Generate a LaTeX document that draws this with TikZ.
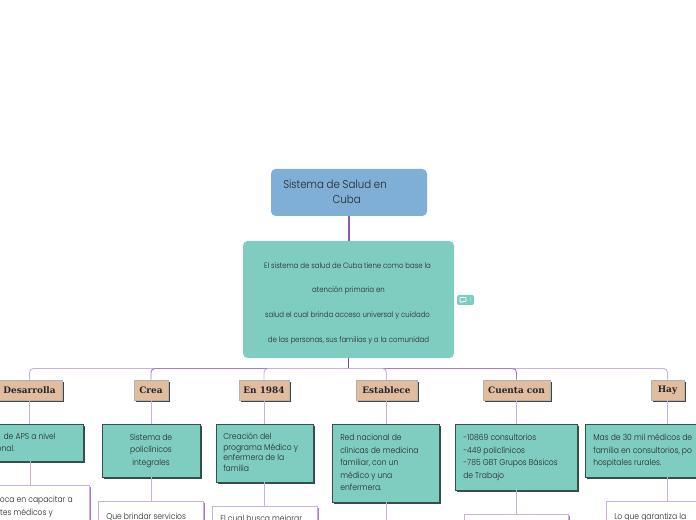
\documentclass[tikz,border=0pt]{standalone}
\usepackage{fontspec}
\usetikzlibrary{shadows}
\setmainfont{Poppins Light}[FakeStretch=0.9]
\newfontfamily\hfont{DejaVu Serif}
\definecolor{teal1}{HTML}{7ECDC0}
\definecolor{blue1}{HTML}{7FAFD6}
\definecolor{tan1}{HTML}{E0BD9F}
\definecolor{lilac}{HTML}{C9B0DF}
\definecolor{midp}{HTML}{A67CC9}
\definecolor{purp}{HTML}{7F3FA8}
\definecolor{shade}{HTML}{3A4A48}
\newcommand{\rbox}[6]{\node[#1,minimum width={(#4-(#3))*0.75pt},minimum height={(#6-(#5))*0.75pt}] (#2) at ({(#3+#4)/2},{(#5+#6)/2}) {};}
\tikzset{
 x=0.75pt,y=-0.75pt,
 solidsh/.style={drop shadow={shadow xshift=1.5pt,shadow yshift=-1.5pt,fill=#1,opacity=1}},
 rootbox/.style={fill=blue1,rounded corners=3.5pt,inner sep=0pt},
 mainbox/.style={fill=teal1,rounded corners=3.5pt,inner sep=0pt},
 tealbox/.style={fill=teal1,draw=black!60!teal1,line width=0.4pt,inner sep=0pt,solidsh=shade},
 hdrbox/.style={fill=tan1,draw=gray!60,line width=0.5pt,inner sep=0pt,solidsh=shade},
 whitebox/.style={fill=white,draw=lilac,line width=0.7pt,inner sep=0pt,solidsh=midp},
 txt/.style={font=\fontsize{6.35pt}{9.4pt}\selectfont,text=black!85,inner sep=0pt,anchor=north west,align=left},
 hdr/.style={font=\fontsize{6.7pt}{8pt}\selectfont\hfont\bfseries,text=black!85,inner sep=0pt},
 mtxt/.style={font=\fontsize{5.8pt}{7pt}\selectfont,text=black!85,inner sep=0pt},
 lk/.style={draw=lilac,line width=0.7pt},
 lkm/.style={draw=midp,line width=0.7pt},
 lkd/.style={draw=purp,line width=0.9pt},
}
\begin{document}
\begin{tikzpicture}
\useasboundingbox (0,0) rectangle (696,520);
\clip (0,0) rectangle (696,520);
\fill[white] (0,0) rectangle (696,520);
\coordinate (bus) at (348.5,368.5);
\coordinate (dnext) at (386.5,530);
\rbox{rootbox}{root}{271}{427}{169}{216}
\rbox{mainbox}{main}{243}{454}{241}{358}
\rbox{hdrbox}{ha}{-3}{62}{380}{400}
\rbox{hdrbox}{hb}{134}{168}{380}{400}
\rbox{hdrbox}{hc}{239}{289}{380}{400}
\rbox{hdrbox}{hd}{356}{417}{380}{400}
\rbox{hdrbox}{he}{483}{550}{380}{400}
\rbox{hdrbox}{hf}{651}{684}{380}{400}
\rbox{tealbox}{ta}{-23}{83}{424}{461}
\rbox{tealbox}{tb}{102}{200}{424}{477}
\rbox{tealbox}{tc}{216}{313}{424}{482}
\rbox{tealbox}{td}{332}{439}{424}{502}
\rbox{tealbox}{te}{455}{577}{424}{490}
\rbox{tealbox}{tf}{585}{750}{424}{477}
\rbox{whitebox}{wa}{-30}{89}{485}{560}
\rbox{whitebox}{wb}{98}{203}{501}{560}
\rbox{whitebox}{wc}{212}{317}{506}{560}
\rbox{whitebox}{we}{464}{568}{514}{560}
\rbox{whitebox}{wf}{606}{729}{501}{560}
% connectors
\draw[purp!80!lilac,line width=0.9pt] (root.south) -- (root.south |- main.north);
\draw[lkd] (main.south) -- (bus);
\draw[lk,rounded corners=3pt] (bus) -| (ha.north);
\draw[lk,rounded corners=3pt] (bus) -| (hf.north);
\draw[lkm,rounded corners=3pt] (bus) -| (hb.north);
\draw[lkm,rounded corners=3pt] (bus) -| (he.north);
\draw[lk,rounded corners=3pt] (bus) -| (hc.north);
\draw[lk,rounded corners=3pt] (bus) -| (hd.north);
\foreach \h/\t in {ha/ta,hb/tb,hc/tc,hd/td,he/te,hf/tf}
 \draw[lk] (\h.south) -- (\h.south |- \t.north);
\foreach \t/\w in {ta/wa,tb/wb,tc/wc,te/we,tf/wf}
 \draw[lk] (\t.south) -- (\t.south |- \w.north);
\draw[lk] (td.south -| hd.south) -- (dnext);
% root and main text
\node[txt,font=\fontsize{8.5pt}{11.4pt}\selectfont] (t0) at (283,179.5) {Sistema de Salud en\\\hspace{37pt}Cuba};
\node[mtxt] (m1) at (347.5,266) {El sistema de salud de Cuba tiene como base la};
\node[mtxt] (m2) at (348.5,291) {atención primaria en};
\node[mtxt] (m3) at (347.5,316) {salud el cual brinda acceso universal y cuidado};
\node[mtxt] (m4) at (348.5,341) {de las personas, sus familias y a la comunidad};
% comment badge
\path[fill=teal1,rounded corners=1.5pt] (457,295) rectangle (474,305);
\draw[white,line width=0.5pt,rounded corners=0.5pt] (460,297.5) -- (466,297.5) -- (466,301.5) -- (462.5,301.5) -- (461,303) -- (461,301.5) -- (460,301.5) -- cycle;
\node[font=\fontsize{4pt}{5pt}\selectfont,text=white,inner sep=0pt] (cnt) at (470.5,300) {1};
% headers
\node[hdr] at (ha) {Desarrolla};
\node[hdr] at (hb) {Crea};
\node[hdr] at (hc) {En 1984};
\node[hdr] at (hd) {Establece};
\node[hdr] at (he) {Cuenta con};
\node[hdr] at (hf) {Hay};
% box text
\node[txt,anchor=north east] (a1) at (56,433) {de APS a nivel};
\node[txt,anchor=north east] (a2) at (15,444.5) {onal.};
\node[txt,anchor=north east] (a3) at (73,495.5) {oca en capacitar a};
\node[txt,anchor=north east] (a4) at (53,508.5) {ntes médicos y};
\node[txt,align=center,anchor=north,font=\fontsize{6.35pt}{9.2pt}\selectfont] (b1) at (151,434) {Sistema de\\policlínicos\\integrales};
\node[txt] (b4) at (106,512.5) {Que brindar servicios};
\node[txt,font=\fontsize{6.35pt}{7.8pt}\selectfont] (c1) at (223,433) {Creación del\\programa Médico y\\enfermera de la\\familia};
\node[txt] (c5) at (220,515) {El cual busca mejorar};
\node[txt] (d1) at (340,434) {Red nacional de\\clínicas de medicina\\familiar, con un\\médico y una\\enfermera.};
\node[txt] (e1) at (463,434) {-10869 consultorios\\-449 policlínicos\\-785 GBT Grupos Básicos\\de Trabajo};
\node[txt] (f1) at (593,434) {Mas de 30 mil médicos de\\familia en consultorios, po\\hospitales rurales.};
\node[txt] (f4) at (614,512.5) {Lo que garantiza la};
\end{tikzpicture}
\end{document}
